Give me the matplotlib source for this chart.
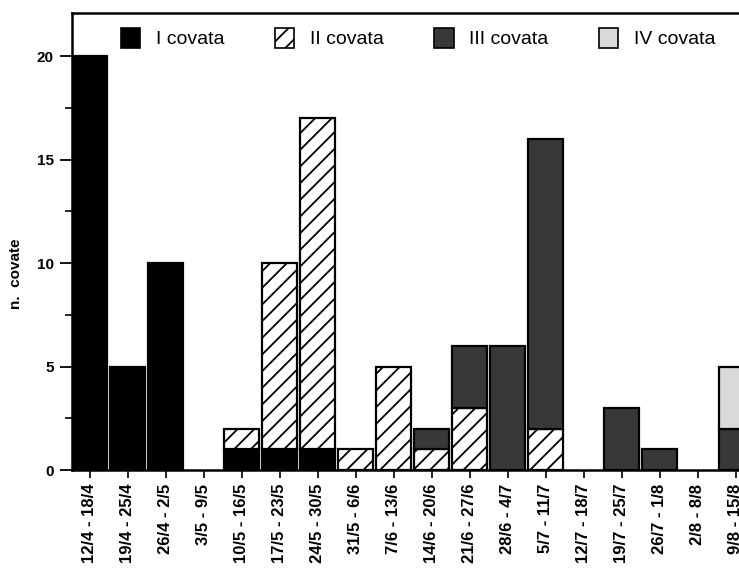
import matplotlib
matplotlib.use("Agg")
import matplotlib.pyplot as plt
import numpy as np
from matplotlib.patches import Patch

plt.rcParams['font.family'] = ['Liberation Sans', 'DejaVu Sans']
plt.rcParams['hatch.linewidth'] = 1.3

periods = ["12/4 - 18/4", "19/4 - 25/4", "26/4 - 2/5", "3/5 - 9/5", "10/5 - 16/5",
           "17/5 - 23/5", "24/5 - 30/5", "31/5 - 6/6", "7/6 - 13/6", "14/6 - 20/6",
           "21/6 - 27/6", "28/6 - 4/7", "5/7 - 11/7", "12/7 - 18/7", "19/7 - 25/7",
           "26/7 - 1/8", "2/8 - 8/8", "9/8 - 15/8"]
covata_I   = [20, 5, 10, 0, 1, 1, 1, 0, 0, 0, 0, 0, 0, 0, 0, 0, 0, 0]
covata_II  = [0, 0, 0, 0, 1, 9, 16, 1, 5, 1, 3, 0, 2, 0, 0, 0, 0, 0]
covata_III = [0, 0, 0, 0, 0, 0, 0, 0, 0, 1, 3, 6, 14, 0, 3, 1, 0, 2]
covata_IV  = [0, 0, 0, 0, 0, 0, 0, 0, 0, 0, 0, 0, 0, 0, 0, 0, 0, 3]
series_labels = ["I covata", "II covata", "III covata", "IV covata"]

fig = plt.figure(figsize=(7.39, 5.72), dpi=100)
ax = fig.add_axes([72/739, 1 - 470/572, (755-72)/739, (470-13)/572])

x = np.arange(len(periods))
w = 0.92
styles = [dict(facecolor='black', hatch=None),
          dict(facecolor='white', hatch='//'),
          dict(facecolor='#383838', hatch=None),
          dict(facecolor='#d9d9d9', hatch=None)]
bottom = np.zeros(len(periods))
handles = []
for vals, st, lab in zip([covata_I, covata_II, covata_III, covata_IV], styles, series_labels):
    v = np.array(vals, dtype=float)
    mask = v > 0
    ax.bar(x[mask], v[mask], w, bottom=bottom[mask], facecolor=st['facecolor'],
           hatch=st['hatch'], edgecolor='black', linewidth=1.6)
    bottom += v
    handles.append(Patch(facecolor=st['facecolor'], hatch=st['hatch'],
                         edgecolor='black', linewidth=1.2, label=lab))

ax.set_xlim(-0.47, 17.5)
ax.set_ylim(0, 22.08)
ax.set_yticks([0, 5, 10, 15, 20])
ax.set_yticks([2.5, 7.5, 12.5, 17.5], minor=True)
ax.set_xticks(x)
ax.set_xticklabels(periods, rotation=90, fontsize=12, fontweight='bold')
for lbl in ax.get_yticklabels():
    lbl.set_fontsize(11)
    lbl.set_fontweight('bold')
ax.tick_params(axis='y', which='major', length=9, width=1.3, direction='out', pad=4)
ax.tick_params(axis='y', which='minor', length=5, width=1.2, direction='out')
ax.tick_params(axis='x', length=6, width=1.2, direction='out', pad=4)
for s in ax.spines.values():
    s.set_linewidth(1.8)
ax.spines['right'].set_visible(False)

ax.set_ylabel("n.  covate", fontsize=11, fontweight='bold')
ax.yaxis.set_label_coords(-0.072, 0.43)

leg = ax.legend(handles=handles, loc='upper left', bbox_to_anchor=(0.05, 1.0), ncol=4,
                frameon=False, fontsize=14, handlelength=1.0, handleheight=1.2,
                handletextpad=0.8, columnspacing=2.6, borderaxespad=0.35)

fig.savefig("out.png", dpi=100)
